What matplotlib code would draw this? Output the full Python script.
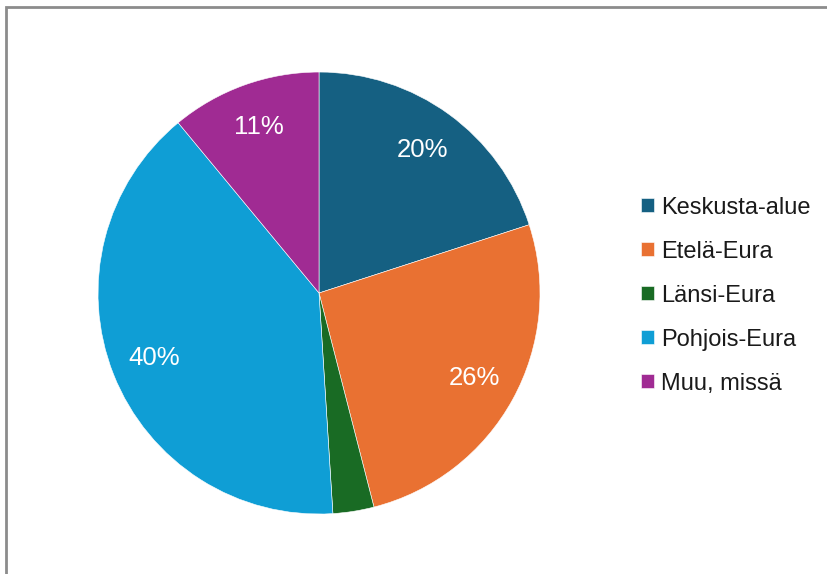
import matplotlib.pyplot as plt
from matplotlib.patches import Rectangle

# Data
categories = ['Keskusta-alue', 'Etelä-Eura', 'Länsi-Eura', 'Pohjois-Eura', 'Muu, missä']
shares = [20, 26, 3, 40, 11]
colors = ['#156082', '#E97132', '#196B24', '#0F9ED5', '#A02B93']

plt.rcParams['font.family'] = ['Liberation Sans', 'DejaVu Sans']

fig = plt.figure(figsize=(8.27, 5.74), dpi=100)
ax = fig.add_axes([0.1185, 0.1045, 0.5345, 0.770])


def pct_label(p):
    # the smallest slice has no label in the original
    return f"{p:.0f}%" if p >= 5 else ''


wedges, texts, autotexts = ax.pie(
    shares, colors=colors, startangle=90, counterclock=False,
    autopct=pct_label, pctdistance=0.8,
    wedgeprops=dict(linewidth=0.4, edgecolor='white'),
    textprops=dict(color='white', fontsize=18.5))
ax.set_aspect('equal')
ax.set_xlim(-1, 1)
ax.set_ylim(-1, 1)

fig.legend(wedges, categories, loc='center left', bbox_to_anchor=(0.775, 0.485),
           frameon=False, fontsize=17, handlelength=0.55, handleheight=0.55,
           handletextpad=0.3, labelspacing=0.93, labelcolor='#1a1a1a',
           borderaxespad=0, borderpad=0)

# outer frame of the chart area (right and bottom edges are cut off)
fig.patches.append(Rectangle((6 / 827, -0.05), 1.2, 1 - 7 / 574 + 0.05,
                             transform=fig.transFigure, fill=False,
                             edgecolor='#8c8c8c', linewidth=2))

fig.savefig('out.png', dpi=100)
